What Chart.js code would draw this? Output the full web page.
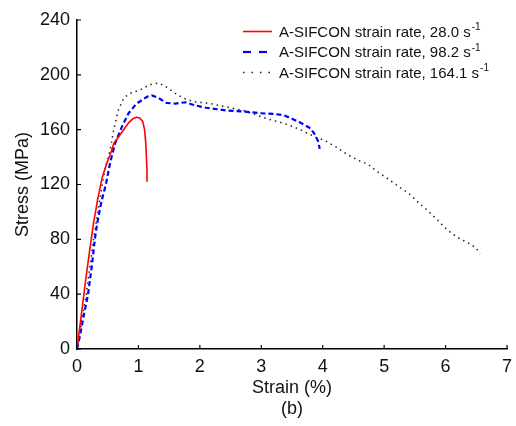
<!DOCTYPE html>
<html>
<head>
<meta charset="utf-8">
<script src="https://cdn.jsdelivr.net/npm/chart.js@4/dist/chart.umd.min.js"></script>
<style>
  html, body { margin: 0; padding: 0; background: #fff; }
  canvas { display: block; }
</style>
</head>
<body>
<canvas id="chart" width="516" height="426"></canvas>
<script>
// Series (strain in %, stress in MPa)
const redStrain = [0, 0.04, 0.09, 0.14, 0.2, 0.27, 0.34, 0.41, 0.48, 0.55, 0.6, 0.68, 0.76, 0.84, 0.91, 0.97, 1.02, 1.07, 1.1, 1.12, 1.13, 1.14, 1.14];
const redStress = [0, 14, 32, 50, 70, 92, 110, 125, 135, 143, 150, 155, 160, 165, 168, 169, 168.5, 166, 160, 150, 140, 130, 122];

const blueStrain = [0, 0.05, 0.1, 0.18, 0.24, 0.29, 0.33, 0.4, 0.47, 0.54, 0.62, 0.73, 0.84, 0.97, 1.14, 1.22, 1.33, 1.46, 1.6, 1.76, 1.9, 2.1, 2.44, 2.77, 2.98, 3.2, 3.37, 3.5, 3.64, 3.8, 3.88, 3.93, 3.95];
const blueStress = [0, 10, 22, 40, 60, 80, 92, 108, 120, 136, 150, 162, 172, 179, 184, 185, 183, 179.5, 179, 180, 178, 176, 174, 173, 172, 171.5, 170.5, 168, 165, 161, 156, 151, 146];

const blackStrain = [0, 0.15, 0.27, 0.41, 0.46, 0.54, 0.59, 0.67, 0.76, 0.86, 1.03, 1.19, 1.33, 1.46, 1.6, 1.73, 1.9, 2.17, 2.39, 2.71, 3.09, 3.37, 3.53, 3.75, 3.91, 4.02, 4.21, 4.37, 4.56, 4.73, 4.89, 5.05, 5.24, 5.4, 5.57, 5.7, 5.87, 6.03, 6.19, 6.36, 6.49, 6.56];
const blackStress = [0, 40, 80, 120, 132, 145, 158, 174, 183, 186.5, 189, 193, 194, 191, 186.5, 183, 180.5, 179, 177, 174, 168, 164.6, 162, 157.5, 154, 152.4, 147.6, 142.7, 137.9, 135, 129.3, 124.5, 118.4, 113.6, 106.3, 101.4, 94, 86.8, 81.5, 77.5, 74, 69.3];

const seriesLabels = ['A-SIFCON strain rate, 28.0 s', 'A-SIFCON strain rate, 98.2 s', 'A-SIFCON strain rate, 164.1 s'];
const xTicks = [0, 1, 2, 3, 4, 5, 6, 7];
const yTicks = [0, 40, 80, 120, 160, 200, 240];

const toPoints = (xs, ys) => xs.map((x, i) => ({ x, y: ys[i] }));

// Small tick marks pointing into the plot area
const innerTicks = {
  id: 'innerTicks',
  afterDraw(chart) {
    const { ctx, chartArea, scales } = chart;
    ctx.save();
    ctx.strokeStyle = '#000';
    ctx.lineWidth = 1.2;
    ctx.beginPath();
    xTicks.forEach((v) => {
      const px = scales.x.getPixelForValue(v);
      ctx.moveTo(px, chartArea.bottom);
      ctx.lineTo(px, chartArea.bottom - 4);
    });
    yTicks.forEach((v) => {
      const py = scales.y.getPixelForValue(v);
      ctx.moveTo(chartArea.left, py);
      ctx.lineTo(chartArea.left + 4, py);
    });
    ctx.stroke();
    ctx.restore();
  },
};

// Legend drawn by hand so the "s-1" superscript fits
const legendBox = {
  id: 'legendBox',
  afterDraw(chart) {
    const { ctx } = chart;
    const legendDash = [[], [8, 8], [1.5, 7]];
    ctx.save();
    chart.data.datasets.forEach((ds, i) => {
      const y = 31.5 + i * 20.5;
      ctx.beginPath();
      ctx.strokeStyle = ds.borderColor;
      ctx.lineWidth = ds.borderWidth;
      ctx.setLineDash(legendDash[i]);
      ctx.moveTo(243, y);
      ctx.lineTo(272, y);
      ctx.stroke();
      ctx.setLineDash([]);
      ctx.fillStyle = '#111';
      ctx.textBaseline = 'middle';
      ctx.font = '15px "Liberation Sans", Arial, sans-serif';
      ctx.fillText(ds.label, 279, y + 1);
      const w = ctx.measureText(ds.label).width;
      ctx.font = '10px "Liberation Sans", Arial, sans-serif';
      ctx.fillText('-1', 279 + w + 1, y - 4);
    });
    ctx.restore();
  },
};

const tickFont = { family: '"Liberation Sans", Arial, sans-serif', size: 18 };

new Chart(document.getElementById('chart'), {
  type: 'scatter',
  data: {
    datasets: [
      {
        label: seriesLabels[0],
        data: toPoints(redStrain, redStress),
        showLine: true,
        borderColor: '#ff0000',
        borderWidth: 1.6,
        pointRadius: 0,
        tension: 0,
      },
      {
        label: seriesLabels[1],
        data: toPoints(blueStrain, blueStress),
        showLine: true,
        borderColor: '#0000ff',
        borderWidth: 2.2,
        borderDash: [5, 3],
        pointRadius: 0,
        tension: 0,
      },
      {
        label: seriesLabels[2],
        data: toPoints(blackStrain, blackStress),
        showLine: true,
        borderColor: '#222',
        borderWidth: 1.5,
        borderDash: [1.5, 4],
        pointRadius: 0,
        tension: 0,
      },
    ],
  },
  options: {
    responsive: false,
    animation: false,
    layout: { padding: { top: 20, right: 9, left: 0, bottom: 0 } },
    plugins: {
      legend: { display: false },
      tooltip: { enabled: false },
    },
    scales: {
      x: {
        type: 'linear',
        min: 0,
        max: 7,
        afterBuildTicks: (s) => { s.ticks = xTicks.map((v) => ({ value: v })); },
        afterFit: (s) => { s.height = 77; s.paddingRight = 0; },
        ticks: { font: tickFont, color: '#111', padding: 7, maxRotation: 0 },
        grid: { drawOnChartArea: false, drawTicks: false },
        border: { color: '#000', width: 1.5 },
        title: {
          display: true,
          text: ['Strain (%)', '(b)'],
          font: { ...tickFont, lineHeight: 1.17 },
          color: '#111',
          padding: { top: 0, bottom: 6 },
        },
      },
      y: {
        min: 0,
        max: 240,
        afterBuildTicks: (s) => { s.ticks = yTicks.map((v) => ({ value: v })); },
        afterFit: (s) => { s.width = 77; },
        ticks: { font: tickFont, color: '#111', padding: 7 },
        grid: { drawOnChartArea: false, drawTicks: false },
        border: { color: '#000', width: 1.5 },
        title: {
          display: true,
          text: 'Stress (MPa)',
          font: tickFont,
          color: '#111',
          padding: { top: 12, bottom: 0 },
        },
      },
    },
  },
  plugins: [innerTicks, legendBox],
});
</script>
</body>
</html>
